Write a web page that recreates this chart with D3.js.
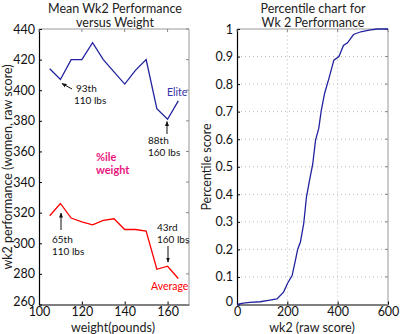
<!DOCTYPE html>
<html><head><meta charset="utf-8">
<script src="https://cdn.jsdelivr.net/npm/d3@7"></script>
<style>body{margin:0;background:#fff}svg{display:block}text{font-family:Lato,sans-serif}</style>
</head><body><svg id="c" width="400" height="334"></svg>
<script>
const weights = [105,110,115,120,125,130,135,140,145,150,155,160,165];
const eliteScores = [414,407,420,420,431,420,412,404,413,420,388,381,393];
const averageScores = [318,326,316.5,314,312,315,316,309,309,308,283,285,277];
const leftYTicks = [260,280,300,320,340,360,380,400,420,440];
const leftXTicks = [100,120,140,160];
const cdfScores = [0,25,52,92,125,159,185,201,219,232,241,252,265,276,288,301,312,325,335,348,365,385,405,423,439,463,492,525,558,600];
const cdfPct = [0,0.005,0.008,0.01,0.015,0.02,0.045,0.077,0.105,0.16,0.2,0.227,0.293,0.39,0.45,0.51,0.596,0.64,0.705,0.766,0.82,0.887,0.9,0.94,0.95,0.98,0.99,0.996,1,1];
const rightYTicks = [0,0.1,0.2,0.3,0.4,0.5,0.6,0.7,0.8,0.9,1];
const rightXTicks = [0,200,400,600];

const svg = d3.select("#c");
const plotTop = 29, plotBottom = 304.5;
const blue = "#2222a0", red = "#ff0000";
const FONT = "Lato,sans-serif";

svg.append("defs").append("marker").attr("id","ah").attr("viewBox","0 0 10 10")
  .attr("refX",9).attr("refY",5).attr("markerWidth",5).attr("markerHeight",5).attr("orient","auto")
  .append("path").attr("d","M0,1 L10,5 L0,9 Z").attr("fill","#111");

function frame(g, x, y, xt, yt, fmtY){
  const [x0,x1] = x.range(), [y1,y0] = y.range();
  g.append("path").attr("d",`M${x0},${y0} H${x1} V${y1}`).attr("fill","none").attr("stroke","#999").attr("stroke-width",1);
  const ya = d3.axisLeft(y).tickValues(yt).tickSizeInner(-3).tickSizeOuter(0).tickPadding(4).tickFormat(fmtY);
  const yg = g.append("g").attr("transform",`translate(${x0},0)`).call(ya);
  const xa = d3.axisBottom(x).tickValues(xt).tickSizeInner(-3).tickSizeOuter(0).tickPadding(3);
  const xg = g.append("g").attr("transform",`translate(0,${y1})`).call(xa);
  [yg,xg].forEach(a=>{a.select(".domain").attr("stroke","#000").attr("stroke-width",1.2);
    a.selectAll(".tick line").attr("stroke","#000");
    a.selectAll("text").attr("font-size",12.5).attr("fill","#111").attr("font-family",FONT);});
  yg.selectAll(".tick text").filter((d,i)=>i===0).attr("dy","0.1em");
  yt.forEach(v=>g.append("line").attr("x1",x1).attr("x2",x1-3).attr("y1",y(v)).attr("y2",y(v)).attr("stroke","#888"));
  xt.forEach(v=>g.append("line").attr("x1",x(v)).attr("x2",x(v)).attr("y1",y0).attr("y2",y0+3).attr("stroke","#888"));
}

// ---- Left chart
const xL = d3.scaleLinear().domain([100,170]).range([39,189]);
const yL = d3.scaleLinear().domain([260,440]).range([plotBottom,plotTop]);
const gL = svg.append("g");
frame(gL, xL, yL, leftXTicks, leftYTicks, d3.format("d"));
const lineL = d3.line().x((d,i)=>xL(weights[i])).y(d=>yL(d));
gL.append("path").attr("d",lineL(eliteScores)).attr("fill","none").attr("stroke",blue).attr("stroke-width",1.3);
gL.append("path").attr("d",lineL(averageScores)).attr("fill","none").attr("stroke",red).attr("stroke-width",1.3);

const t = (x,y,s,opt={})=>svg.append("text").attr("x",x).attr("y",y).text(s)
  .attr("font-size",opt.fs||10).attr("fill",opt.c||"#111").attr("text-anchor",opt.a||"start")
  .attr("font-weight",opt.w||"normal");
const arrow=(x1,y1,x2,y2)=>svg.append("line").attr("x1",x1).attr("y1",y1).attr("x2",x2).attr("y2",y2)
  .attr("stroke","#111").attr("stroke-width",1).attr("marker-end","url(#ah)");

t(115,12.5,"Mean Wk2 Performance",{fs:12.5,a:"middle",c:"#222"});
t(115,27,"versus Weight",{fs:12.5,a:"middle",c:"#222"});
t(113,332,"weight(pounds)",{fs:12.5,a:"middle",c:"#222"});
svg.append("text").attr("transform","translate(12,167) rotate(-90)").attr("text-anchor","middle")
  .attr("font-size",12.5).attr("fill","#222").text("wk2 performance (women, raw score)");

t(76,92,"93th"); t(74,104,"110 lbs");
arrow(72,89,62,83.5);
t(167,96,"Elite",{c:"#3333a8",fs:10.5});
t(148,144,"88th"); t(148,156,"160 lbs");
arrow(167,134,167,121.5);
t(96,161,"%ile",{c:"#e8177e",w:"bold",fs:11});
t(96,174,"weight",{c:"#e8177e",w:"bold",fs:11});
t(52,243,"65th"); t(52,255,"110 lbs");
arrow(61,230,61,213);
t(157,231,"43rd"); t(157,243,"160 lbs");
arrow(168,246,168,262);
t(151,290,"Average",{c:red,fs:10.5});

// ---- Right chart
const xR = d3.scaleLinear().domain([0,600]).range([237,388]);
const yR = d3.scaleLinear().domain([0,1]).range([plotBottom,plotTop]);
const gR = svg.append("g");
rightYTicks.slice(1,-1).forEach(v=>gR.append("line").attr("x1",xR(0)).attr("x2",xR(600)).attr("y1",yR(v)).attr("y2",yR(v))
  .attr("stroke","#bbb").attr("stroke-dasharray","1,3"));
rightXTicks.slice(1,-1).forEach(v=>gR.append("line").attr("x1",xR(v)).attr("x2",xR(v)).attr("y1",yR(0)).attr("y2",yR(1))
  .attr("stroke","#bbb").attr("stroke-dasharray","1,3"));
frame(gR, xR, yR, rightXTicks, rightYTicks, d=>d===0?"0":d===1?"1":d3.format(".1f")(d));
gR.append("path").attr("d",d3.line().x((d,i)=>xR(cdfScores[i])).y(d=>yR(d))(cdfPct))
  .attr("fill","none").attr("stroke",blue).attr("stroke-width",1.3);
t(313,12.5,"Percentile chart for",{fs:12.5,a:"middle",c:"#222"});
t(313,27,"Wk 2 Performance",{fs:12.5,a:"middle",c:"#222"});
t(312,332,"wk2 (raw score)",{fs:12.5,a:"middle",c:"#222"});
svg.append("text").attr("transform","translate(211,167) rotate(-90)").attr("text-anchor","middle")
  .attr("font-size",12.5).attr("fill","#222").text("Percentile score");
</script></body></html>
